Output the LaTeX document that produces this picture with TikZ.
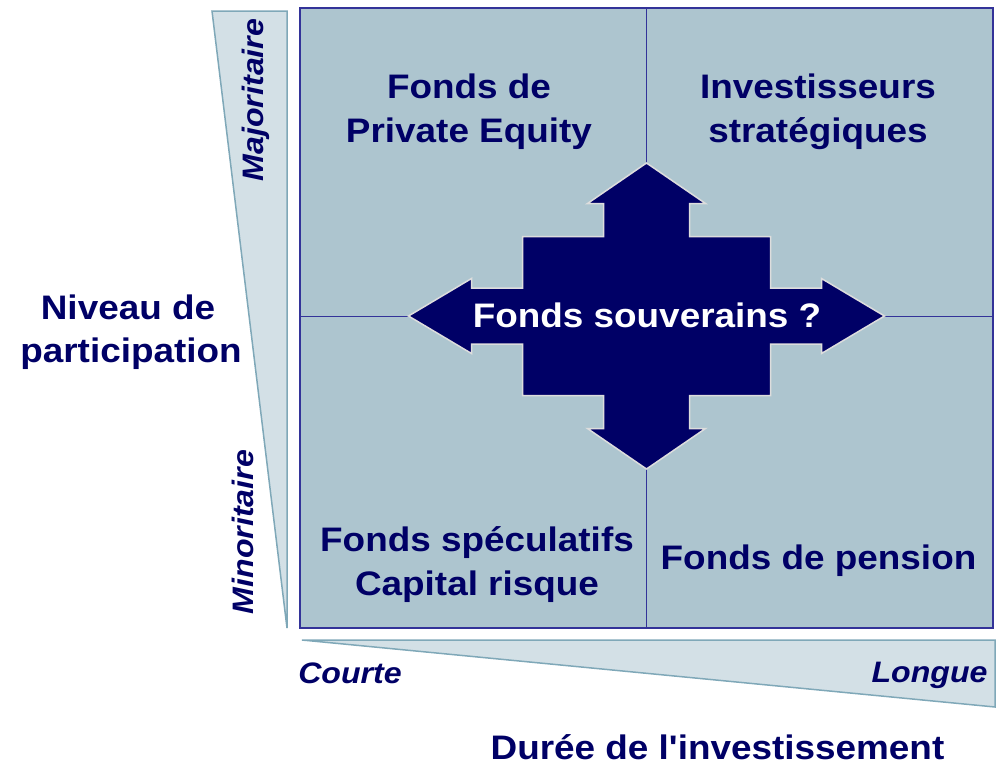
\documentclass[tikz,border=0pt]{standalone}
\usepackage{fontspec}
\setmainfont{Liberation Sans}[FakeStretch=1.085, Ligatures=TeXOff]
\definecolor{navy}{HTML}{000066}
\definecolor{quadfill}{HTML}{ADC5CF}
\definecolor{wedgefill}{HTML}{D3E0E6}
\definecolor{wedgeline}{HTML}{7FA8B8}
\definecolor{gridline}{HTML}{333399}
\definecolor{arrowline}{HTML}{DDDDDD}
\tikzset{
  qtext/.style={anchor=base, text=navy, font=\fontsize{34}{40}\selectfont\bfseries, inner sep=0pt},
  atext/.style={anchor=base, text=navy, font=\fontsize{29.6}{36}\selectfont\bfseries\itshape, inner sep=0pt},
  wedge/.style={fill=wedgefill, draw=wedgeline, line width=1.5pt, line join=miter},
}
\begin{document}
\begin{tikzpicture}[x=1pt,y=-1pt]
\useasboundingbox (0,0) rectangle (996,763);
% quadrant area
\fill[quadfill] (300,8) rectangle (993,628);
\draw[gridline, line width=1pt] (646.5,8) -- (646.5,628);
\draw[gridline, line width=1pt] (300,316) -- (993,316);
\draw[gridline, line width=1.5pt] (300,8) rectangle (993,628);
% wedges
\draw[wedge] (212,11) -- (287,11) -- (287,628) -- cycle;
\draw[wedge] (302,640) -- (995,640) -- (995,707) -- cycle;
% central arrow
\begin{scope}[shift={(646.5,316)}]
\draw[fill=navy, draw=arrowline, line width=1.5pt, line join=miter]
  (0,-153) -- (59,-112.5) -- (43,-112.5) -- (43,-79.5) -- (124,-79.5) -- (124,-28)
  -- (175,-28) -- (175,-37.5) -- (238,0) -- (175,37.5) -- (175,28) -- (124,28)
  -- (124,79.5) -- (43,79.5) -- (43,112.5) -- (59,112.5) -- (0,153)
  -- (-59,112.5) -- (-43,112.5) -- (-43,79.5) -- (-124,79.5) -- (-124,28)
  -- (-175,28) -- (-175,37.5) -- (-238,0) -- (-175,-37.5) -- (-175,-28) -- (-124,-28)
  -- (-124,-79.5) -- (-43,-79.5) -- (-43,-112.5) -- (-59,-112.5) -- cycle;
\end{scope}
\node[qtext, text=white] (sov) at (647,327.3) {Fonds souverains ?};
% quadrant texts
\node[qtext] (pe1) at (469,98) {Fonds de};
\node[qtext] (pe2) at (469,142.5) {Private Equity};
\node[qtext] (is1) at (818,98) {Investisseurs};
\node[qtext] (is2) at (818,142.5) {stratégiques};
\node[qtext] (fs1) at (477,551) {Fonds spéculatifs};
\node[qtext] (fs2) at (477,595) {Capital risque};
\node[qtext] (fp) at (818.5,569) {Fonds de pension};
% axis texts
\node[qtext] (nv1) at (128,319) {Niveau de};
\node[qtext] (nv2) at (131,362) {participation};
\node[qtext] (dur) at (717.5,759) {Durée de l'investissement};
\node[atext] (court) at (350,683) {Courte};
\node[atext] (long) at (929.5,682) {Longue};
\node[atext, rotate=90] (maj) at (263,100) {Majoritaire};
\node[atext, rotate=90] (min) at (253,532) {Minoritaire};
\end{tikzpicture}
\end{document}
